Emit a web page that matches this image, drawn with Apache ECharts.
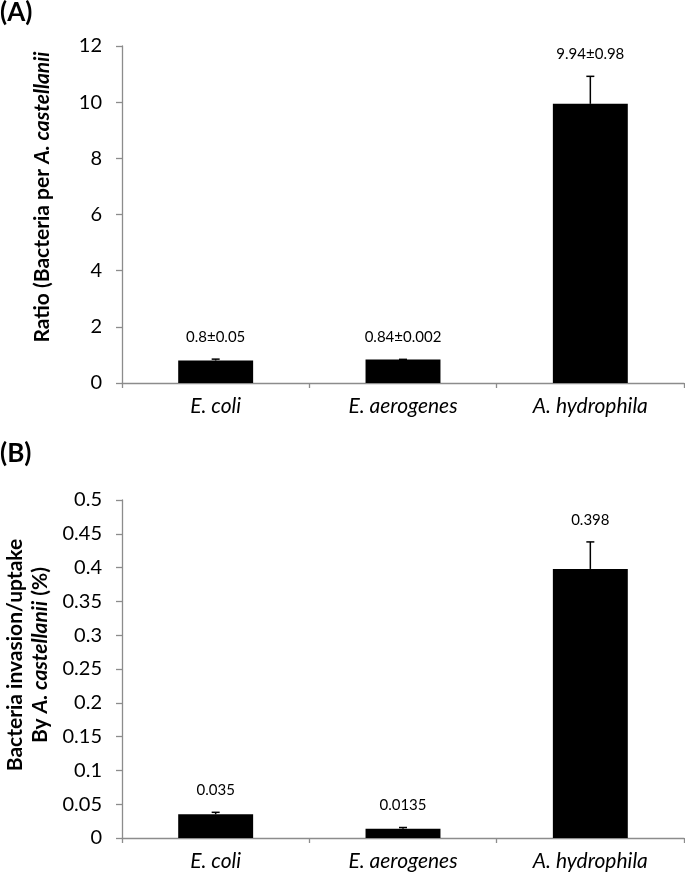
<!DOCTYPE html>
<html>
<head>
<meta charset="utf-8">
<script src="https://cdn.jsdelivr.net/npm/echarts@6/dist/echarts.min.js"></script>
<style>
html,body{margin:0;padding:0;background:#fff;}
#chart{width:685px;height:873px;}
</style>
</head>
<body>
<div id="chart"></div>
<script>
// ---- data ----
var categories = ['E. coli', 'E. aerogenes', 'A. hydrophila'];
var ratioMean = [0.8, 0.84, 9.94];
var ratioErr = [0.05, 0.002, 0.98];
var ratioLabels = ['0.8±0.05', '0.84±0.002', '9.94±0.98'];
var uptakeMean = [0.035, 0.0135, 0.398];
var uptakeErr = [0.003, 0.002, 0.04];
var uptakeLabels = ['0.035', '0.0135', '0.398'];
var ratioTicks = {min: 0, max: 12, interval: 2};
var uptakeTicks = {min: 0, max: 0.5, interval: 0.05};

var FONT = 'Lato';
var chart = echarts.init(document.getElementById('chart'), null, {renderer: 'canvas'});

function errData(mean, err, labels) {
  return mean.map(function (m, i) { return [i, m, m + err[i], labels[i]]; });
}

function errRender(params, api) {
  var x = api.value(0);
  var base = api.coord([x, api.value(1)]);
  var top = api.coord([x, api.value(2)]);
  var half = 4;
  return {
    type: 'group',
    children: [
      {type: 'line', shape: {x1: base[0], y1: base[1], x2: top[0], y2: top[1]},
       style: {stroke: '#000', lineWidth: 1.5}},
      {type: 'line', shape: {x1: top[0] - half, y1: top[1], x2: top[0] + half, y2: top[1]},
       style: {stroke: '#000', lineWidth: 1.5}},
      {type: 'text', x: top[0], y: top[1] - 22,
       style: {text: api.value(3), fill: '#000', font: '15px ' + FONT,
               textAlign: 'center', textVerticalAlign: 'middle'}}
    ]
  };
}

var axisLineStyle = {color: '#8c8c8c', width: 1.3};

function xAxisCfg(gi) {
  return {
    type: 'category', gridIndex: gi, data: categories,
    axisLine: {lineStyle: axisLineStyle},
    axisTick: {show: true, length: 5, lineStyle: axisLineStyle},
    axisLabel: {color: '#000', fontFamily: FONT, fontStyle: 'italic', fontSize: 21, margin: 13}
  };
}
function yAxisCfg(gi, t, fmt) {
  return {
    type: 'value', gridIndex: gi, min: t.min, max: t.max, interval: t.interval,
    axisLine: {show: true, lineStyle: axisLineStyle},
    axisTick: {show: true, length: 6, lineStyle: axisLineStyle},
    splitLine: {show: false},
    axisLabel: {color: '#000', fontFamily: FONT, fontSize: 20, margin: 20, formatter: fmt}
  };
}

var option = {
  animation: false,
  backgroundColor: '#fff',
  grid: [
    {left: 122, right: 1, top: 46, height: 337},
    {left: 122, right: 1, top: 500, height: 338}
  ],
  xAxis: [xAxisCfg(0), xAxisCfg(1)],
  yAxis: [
    yAxisCfg(0, ratioTicks, function (v) { return String(v); }),
    yAxisCfg(1, uptakeTicks, function (v) { return String(Math.round(v * 100) / 100); })
  ],
  series: [
    {type: 'bar', xAxisIndex: 0, yAxisIndex: 0, data: ratioMean, barWidth: '40%',
     itemStyle: {color: '#000'}},
    {type: 'custom', xAxisIndex: 0, yAxisIndex: 0, renderItem: errRender,
     data: errData(ratioMean, ratioErr, ratioLabels), z: 5},
    {type: 'bar', xAxisIndex: 1, yAxisIndex: 1, data: uptakeMean, barWidth: '40%',
     itemStyle: {color: '#000'}},
    {type: 'custom', xAxisIndex: 1, yAxisIndex: 1, renderItem: errRender,
     data: errData(uptakeMean, uptakeErr, uptakeLabels), z: 5}
  ],
  graphic: [
    {type: 'text', left: 0, top: 0,
     style: {text: '(A)', font: 'bold 26px ' + FONT, fill: '#000'}},
    {type: 'text', left: 0, top: 441,
     style: {text: '(B)', font: 'bold 26px ' + FONT, fill: '#000'}},
    {type: 'text', x: 42, y: 197, rotation: Math.PI / 2,
     style: {text: 'Ratio (Bacteria per {i|A. castellanii}', font: 'bold 21px ' + FONT, fill: '#000',
             textAlign: 'center', textVerticalAlign: 'middle',
             rich: {i: {fontStyle: 'italic', fontWeight: 'bold', fontSize: 21, fontFamily: FONT}}}},
    {type: 'text', x: 15, y: 655, rotation: Math.PI / 2,
     style: {text: 'Bacteria invasion/uptake', font: 'bold 21px ' + FONT, fill: '#000',
             textAlign: 'center', textVerticalAlign: 'middle'}},
    {type: 'text', x: 40, y: 655, rotation: Math.PI / 2,
     style: {text: 'By {i|A. castellanii} (%)', font: 'bold 21px ' + FONT, fill: '#000',
             textAlign: 'center', textVerticalAlign: 'middle',
             rich: {i: {fontStyle: 'italic', fontWeight: 'bold', fontSize: 21, fontFamily: FONT}}}}
  ]
};
chart.setOption(option);
</script>
</body>
</html>
